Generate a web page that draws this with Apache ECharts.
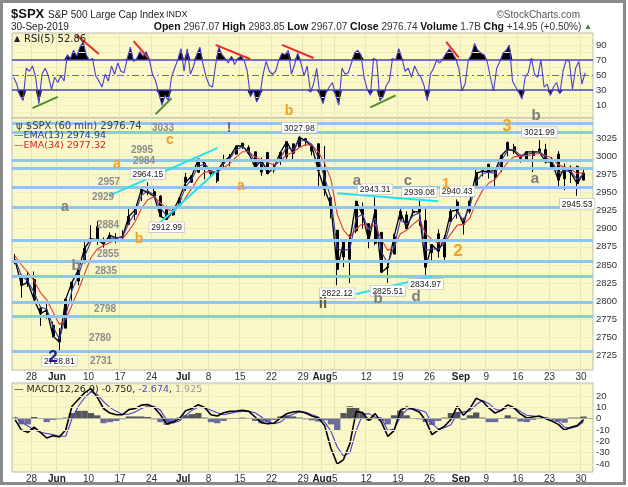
<!DOCTYPE html>
<html><head><meta charset="utf-8">
<script src="https://cdn.jsdelivr.net/npm/echarts@6/dist/echarts.min.js"></script>
<style>html,body{margin:0;padding:0;background:#fff}#c{width:628px;height:487px}</style>
</head><body><div id="c"></div>
<script>
// ---------- DATA ----------
const days = [
 '05-22','05-23','05-24','05-28','05-29','05-30','05-31',
 '06-03','06-04','06-05','06-06','06-07',
 '06-10','06-11','06-12','06-13','06-14',
 '06-17','06-18','06-19','06-20','06-21',
 '06-24','06-25','06-26','06-27','06-28',
 '07-01','07-02','07-03','07-05',
 '07-08','07-09','07-10','07-11','07-12',
 '07-15','07-16','07-17','07-18','07-19',
 '07-22','07-23','07-24','07-25','07-26',
 '07-29','07-30','07-31','08-01','08-02',
 '08-05','08-06','08-07','08-08','08-09',
 '08-12','08-13','08-14','08-15','08-16',
 '08-19','08-20','08-21','08-22','08-23',
 '08-26','08-27','08-28','08-29','08-30',
 '09-03','09-04','09-05','09-06',
 '09-09','09-10','09-11','09-12','09-13',
 '09-16','09-17','09-18','09-19','09-20',
 '09-23','09-24','09-25','09-26','09-27',
 '09-30'];
const tickDates = ['05-28','06-03','06-10','06-17','06-24','07-01','07-08','07-15','07-22','07-29','08-01','08-05','08-12','08-19','08-26','09-03','09-09','09-16','09-23','09-30'];
const tickLabels = ['28','Jun','10','17','24','Jul','8','15','22','29','Aug','5','12','19','26','Sep','9','16','23','30'];

const openP = [2856,2836,2833,2830,2790,2786,2767, 2752,2763,2818,2828,2853, 2886,2903,2882,2886,2886, 2889,2906,2920,2949,2952, 2951,2945,2926,2919,2932, 2971,2964,2978,2984, 2979,2966,2990,2999,3003, 3018,3012,3006,2978,3005, 2981,2995,2999,3017,3013, 3024,3007,3017,2980,2943, 2898,2861,2858,2897,2930, 2907,2880,2895,2846,2865, 2913,2919,2922,2931,2911, 2867,2893,2861,2910,2937, 2909,2924,2960,2980, 2989,2971,2982,3019,3013, 2997,2996,3001,3010,3009, 2984,3003,2969,2985,2986, 2967];
const highP = [2865,2836,2841,2841,2792,2799,2772, 2763,2804,2827,2852,2884, 2905,2911,2888,2895,2894, 2898,2930,2931,2958,2964.15, 2955,2946,2932,2929,2943, 2977,2974,2996,2992, 2981,2981,3002,3003,3014, 3018,3015,3006,2998,3006, 2990,3005,3020,3017,3027.98, 3025,3017,3018,3014,2945, 2898,2884,2892,2938,2936, 2907,2943.31,2895,2857,2893, 2931,2924,2929,2939.08,2928, 2879,2899,2891,2930,2940.43, 2915,2938,2985,2985, 2989,2980,3001,3020,3017, 3002,3006,3008,3021.99,3017, 2999,3007,2990,2987,2987, 2984];
const lowP = [2851,2805,2820,2802,2766,2776,2750, 2728.81,2763,2801,2822,2853, 2885,2878,2874,2882,2880, 2886,2905,2912,2938,2946, 2944,2916,2912.99,2918,2929, 2952,2963,2977,2968, 2970,2963,2984,2986,3002, 3010,3002,2984,2973,2975, 2977,2988,2996,2996,3012, 3014,3001,2959,2945,2914, 2822.12,2847,2825,2894,2900, 2873,2877,2840,2825.51,2865, 2913,2900,2917,2904,2834.97, 2856,2860,2853,2910,2914, 2892,2921,2960,2972, 2969,2959,2978,3000,3003, 2991,2994,2978,3003,2990, 2982,2957,2953,2963,2945.53, 2967];
const closeP = [2856,2822,2826,2802,2783,2788,2752, 2744,2803,2826,2843,2873, 2886,2885,2879,2891,2887, 2889,2917,2926,2954,2950, 2945,2917,2913,2924,2942, 2964,2973,2996,2990, 2976,2979,2993,2999,3014, 3014,3004,2984,2995,2976, 2985,3005,3020,3004,3026, 3021,3013,2980,2954,2932, 2844,2882,2884,2938,2919, 2883,2926,2840,2847,2889, 2924,2900,2924,2923,2847, 2878,2869,2887,2924,2926, 2906,2938,2977,2979, 2979,2980,3001,3010,3007, 2998,3006,3006,3006,2992, 2992,2967,2985,2977,2962, 2976.74];
const ema13 = [2858,2835,2828,2812,2792,2789,2765, 2748,2780,2815,2835,2862, 2882,2886,2881,2887,2887, 2889,2908,2922,2946,2952, 2947,2928,2918,2922,2935, 2958,2969,2986,2989, 2980,2977,2990,2997,3009, 3013,3007,2992,2990,2984, 2984,2998,3012,3009,3021, 3022,3016,2998,2970,2942, 2872,2870,2872,2915,2920, 2898,2915,2868,2852,2875, 2912,2906,2918,2922,2870, 2872,2872,2880,2910,2922, 2912,2930,2965,2976, 2978,2976,2994,3008,3009, 3001,3003,3004,3007,2998, 2993,2977,2980,2979,2968, 2974.94];
const ema34 = [2862,2850,2840,2828,2812,2802,2785, 2768,2775,2795,2815,2838, 2860,2872,2877,2881,2884, 2886,2897,2910,2928,2940, 2944,2936,2927,2924,2930, 2943,2956,2970,2978, 2979,2978,2984,2990,2999, 3006,3006,2999,2995,2991, 2988,2993,3002,3005,3012, 3016,3015,3006,2990,2968, 2920,2898,2888,2900,2907, 2900,2906,2885,2870,2875, 2893,2898,2906,2913,2893, 2885,2880,2881,2893,2905, 2906,2915,2936,2953, 2963,2968,2980,2992,2999, 3000,3001,3002,3004,3001, 2997,2988,2985,2982,2976, 2977.32];
// RSI(5) sampled twice a day
const rsi5 = [47,38,23,16,59,55,62,47,12,51, 59,49,31,47,40,49,42,77,72,83, 75,87,94,77,70,72,49,42,34,51, 42,62,51,66,55,53,72,87,68,72,
 81,75,81,70,51,42,25,10,23,16, 47,59,70,85,55,85,51,62,77,87, 64,47,36,34,64,87,77,72,66,75, 64,72,75,70,55,21,29,14,23,51,
 68,55,51,55,70,79,77,83,51,64, 79,66,49,62,27,38,59,23,12,27, 34,40,23,10,59,51,53,66,79,83, 77,47,31,23,72,70,16,21,36,42,
 72,70,85,72,55,59,47,62,53,47, 36,16,51,59,70,66,72,79,85,79, 72,59,29,38,70,77,92,83,79,77, 68,47,29,59,68,79,83,90,42,34,
 27,18,47,53,72,51,47,70,34,38, 23,34,40,25,55,70,68,31,59,68, 38,53];
const macdLine = [-1,-10,-12,-7.4,-12,-17,-15,-16,-10,11, 17,23,26.5,19,9,5,3.5,3.5,8,9, 12,12.5,10,3.5,-4.7,-3,0,7,9,12.4, 10,3.5,2.4,5.3,6.5,6.8,7.4,6.5,1.5,-3.5,
 -4.4,-3.8,0.6,4.4,5.9,6.5,5,2.4,0.6,-6, -26,-40,-36,-22,6.5,5.4,-1.5,4.5,-3,-15.5, -10.5,7.5,10.4,8.4,6,-1.5,-14,-10,-6.6,-0.6,
 11,3,9,18,15.5,9.5,5,7.5,12.2,9.6, 4.2,0.6,1.5,2.4,0,-2,-5,-10,-7.5,-6, -0.75];
const signalLine = [1.5,-3,-6.5,-10,-12,-13,-14,-15.5,-15.5,0, 11,18.5,23.6,21.5,15,10,6.5,3.8,4,6, 9,11,11,7.4,-1,-3.8,-2,3,7.4,10, 9.7,7.4,5.3,3.5,4.7,6,6.5,6.5,5.3,1.5,
 -3,-4.4,-3,1.2,4,6,5.6,3.5,1.5,-3, -11,-25,-33,-30,-10.5,3.5,4.5,1.5,0.6,-10.5, -9,1.5,8,9,7.7,6,-4.5,-9,-8,-5.4,
 4.5,6,6.9,12.5,16,13.5,8.4,7.2,10,9.6, 6.5,3,2.4,1.8,0.9,-0.3,-2.4,-7.5,-8.4,-6.9, -2.674];
const macdHist = [1,-5,-5,1.5,0,-3,-1,-0.5,1,5, 7,7,5,3,-4,-3,-2,-0.5,2,2, 2,1.5,-0.5,-3,-5.5,-3,1,3,4,5, 1,-3,-4,-2,0.5,0.5,1,0.5,-2,-4,
 -3,-1,2,3,2,1,-0.5,-1.5,-2.5,-1.5, -5,-10,5,11,10,5,-1.5,1,-2,-5, 3,7,3,0,-0.5,-3,-5.5,-2,1,5,
 6,-1,3,5.5,1,-3,-3,0.5,3,1, -2.5,-3,-1,0.5,1,0.5,-2.5,-3.5,1,1, 1.925];

const levels = [3046,3033,2995,2984,2957,2929,2884,2855,2835,2798,2780,2731];
const priceTicks = [2725,2750,2775,2800,2825,2850,2875,2900,2925,2950,2975,3000,3025];
const rsiTicks = [10,30,50,70,90];
const macdTicks = [-40,-30,-20,-10,0,10,20];
const pivots = [
 ['06-03',2728.81,'bottom'],['06-21',2964.15,'top'],['06-26',2912.99,'bottom'],['07-26',3027.98,'top'],
 ['08-05',2822.12,'bottom'],['08-13',2943.31,'top'],['08-15',2825.51,'bottom'],['08-22',2939.08,'top'],
 ['08-23',2834.97,'bottom'],['08-30',2940.43,'top'],['09-19',3021.99,'top'],['09-27',2945.53,'bottom']];
const trendLines = [
 [['06-13',2946],['07-09',3011]],
 [['06-24',2901],['07-09',2980]],
 [['08-05',2949],['08-27',2938]],
 [['08-08',2810],['08-26',2834]]];
// RSI divergence lines [slot, rsi] pairs
const rsiRed = [[[20,103],[27,78]],[[38,95],[43,71]],[[64,90],[75,71]],[[85,90],[95,72.6]],[[137,94],[141,73]]];
const rsiGreen = [[[6,6],[14,21]],[[45,-2],[50,19]],[[113,7],[121,23]]];

// ---------- LAYOUT ----------
const xCats = days.concat(['']);
const rsiCats = [];
days.forEach(d => { rsiCats.push(d + 'a'); rsiCats.push(d + 'b'); });
rsiCats.push('z1', 'z2');
const tickSet = new Set(tickDates);
const BG = '#FAF7C8', VGRID = '#E3E6B2', HGRID = '#EEEBBE';
const ORANGE = '#F2A024', GRAY = '#7d7d7d';

const levelText = [ // [label, x, y]
 ['3033',163,128],['2995',142,150],['2984',144,161],['2957',109,182],['2929',103,197],['2884',108,225],
 ['2855',108,254],['2835',106,271],['2798',105,309],['2780',100,338],['2731',101,361]];
const waveText = [ // [text, x, y, color, size]
 ['a',65,207,GRAY,14],['a',117,164,ORANGE,14],['c',170,140,ORANGE,14],['b',139,239,ORANGE,14],
 ['a',241,186,ORANGE,14],['b',289,111,ORANGE,14],['!',229,128,'#666',14],['ii',323,304,'#55623a',15],
 ['2',53,357,'#1c1c8c',17],['b',76,266,GRAY,15],['a',357,181,GRAY,15],['c',408,181,GRAY,15],
 ['b',378,299,GRAY,15],['d',416,297,GRAY,15],['1',446,184,ORANGE,15],['2',458,251,ORANGE,17],
 ['3',507,127,ORANGE,16],['b',536,116,GRAY,15],['a',535,179,GRAY,15]];

const rsiHiBase = rsi5.map(() => 70);
const rsiHiFill = rsi5.map(v => Math.max(v - 70, 0));
const rsiLoBase = rsi5.map(v => Math.min(v, 30));
const rsiLoFill = rsi5.map(v => 30 - Math.min(v, 30));

function xLabel(value) {
  const k = tickDates.indexOf(value);
  if (k < 0) return '';
  const t = tickLabels[k];
  return /^[A-Z]/.test(t) ? '{m|' + t + '}' : '{d|' + t + '}';
}
const xRich = {
  m: {fontWeight: 'bold', fontSize: 10, color: '#222', fontFamily: 'Liberation Sans', padding: [0, 5, 0, 0]},
  d: {fontSize: 10, color: '#333', fontFamily: 'Liberation Sans', padding: [0, 5, 0, 0]}
};
const ySide = {fontSize: 9.5, color: '#333', fontFamily: 'Liberation Sans', margin: 3, formatter: v => String(v)};
const gridBase = {left: 12, width: 581, show: true, backgroundColor: BG, borderColor: '#b9b9a8', borderWidth: 1};
const mlBase = {silent: true, symbol: ['none', 'none'], label: {show: false}, animation: false};

const chart = echarts.init(document.getElementById('c'), null, {renderer: 'canvas', width: 628, height: 487});

const graphics = [];
graphics.push({type: 'rect', z: 100, shape: {x: 1.5, y: 1.5, width: 623, height: 482}, style: {fill: 'none', stroke: '#8a8a8a', lineWidth: 3}});
graphics.push({type: 'text', z: 100, x: 11, y: 14, style: {text: '$SPX', font: 'bold 13px "Liberation Sans"', fill: '#111', verticalAlign: 'middle'}});
graphics.push({type: 'text', z: 100, x: 48, y: 15, style: {text: 'S&P 500 Large Cap Index', font: '10px "Liberation Sans"', fill: '#222', verticalAlign: 'middle'}});
graphics.push({type: 'text', z: 100, x: 166, y: 15, style: {text: 'INDX', font: '9px "Liberation Sans"', fill: '#222', verticalAlign: 'middle'}});
graphics.push({type: 'text', z: 100, x: 580, y: 15, style: {text: '©StockCharts.com', font: '10px "Liberation Sans"', fill: '#555', align: 'right', verticalAlign: 'middle'}});
graphics.push({type: 'text', z: 100, x: 11, y: 27, style: {text: '30-Sep-2019', font: '10px "Liberation Sans"', fill: '#222', verticalAlign: 'middle'}});
graphics.push({type: 'text', z: 100, x: 592, y: 27, style: {
  text: '{b|Open} 2967.07 {b|High} 2983.85 {b|Low} 2967.07 {b|Close} 2976.74 {b|Volume} 1.7B {b|Chg} +14.95 (+0.50%) {g|▲}',
  font: '10px "Liberation Sans"', fill: '#333', align: 'right', verticalAlign: 'middle',
  rich: {b: {fontWeight: 'bold', fontSize: 10.5, fontFamily: 'Liberation Sans', fill: '#111'}, g: {fontSize: 8, fill: '#2a8a2a'}}}});
// panel legends
graphics.push({type: 'text', z: 100, x: 14, y: 39, style: {text: '▲', font: '8px "DejaVu Sans"', fill: '#222', verticalAlign: 'middle'}});
graphics.push({type: 'text', z: 100, x: 24, y: 39, style: {text: 'RSI(5) 52.86', font: '10px "DejaVu Sans"', fill: '#222', verticalAlign: 'middle'}});
graphics.push({type: 'text', z: 100, x: 16, y: 126, style: {text: 'ψ $SPX (60 min) 2976.74', font: '10px "DejaVu Sans"', fill: '#444', verticalAlign: 'middle'}});
graphics.push({type: 'text', z: 100, x: 14, y: 136, style: {text: '—EMA(13) 2974.94', font: '9.5px "DejaVu Sans"', fill: '#2e2e9a', verticalAlign: 'middle'}});
graphics.push({type: 'text', z: 100, x: 14, y: 146, style: {text: '—EMA(34) 2977.32', font: '9.5px "DejaVu Sans"', fill: '#d02828', verticalAlign: 'middle'}});
graphics.push({type: 'text', z: 100, x: 14, y: 390, style: {
  text: '— MACD(12,26,9) -0.750, {bl|-2.674}, {gr|1.925}', font: '9.5px "DejaVu Sans"', fill: '#222', verticalAlign: 'middle',
  rich: {bl: {fill: '#4b3fcf', fontSize: 9.5, fontFamily: 'DejaVu Sans'}, gr: {fill: '#999', fontSize: 9.5, fontFamily: 'DejaVu Sans'}}}});
levelText.forEach(([t, x, y]) => graphics.push({type: 'text', z: 100, x: x, y: y,
  style: {text: t, font: 'bold 10px "Liberation Sans"', fill: '#8c8c8c', align: 'center', verticalAlign: 'middle'}}));
waveText.forEach(([t, x, y, c, s]) => graphics.push({type: 'text', z: 100, x: x, y: y,
  style: {text: t, font: 'bold ' + s + 'px "Liberation Sans"', fill: c, align: 'center', verticalAlign: 'middle'}}));

const option = {
  animation: false,
  backgroundColor: '#fff',
  grid: [
    Object.assign({top: 33, height: 85}, gridBase),
    Object.assign({top: 118, height: 252}, gridBase),
    Object.assign({top: 383, height: 89}, gridBase)
  ],
  xAxis: [
    {type: 'category', gridIndex: 0, data: rsiCats, boundaryGap: true,
     axisLine: {show: false}, axisTick: {show: false}, axisLabel: {show: false},
     splitLine: {show: true, interval: (i, v) => v.endsWith('a') && tickSet.has(v.slice(0, 5)), lineStyle: {color: VGRID, width: 1}}},
    {type: 'category', gridIndex: 1, data: xCats, boundaryGap: true,
     axisLine: {show: false}, axisTick: {show: false},
     axisLabel: {interval: (i, v) => tickSet.has(v), formatter: xLabel, rich: xRich, margin: 2},
     splitLine: {show: true, interval: (i, v) => tickSet.has(v), lineStyle: {color: VGRID, width: 1}}},
    {type: 'category', gridIndex: 2, data: xCats, boundaryGap: true,
     axisLine: {show: false}, axisTick: {show: false},
     axisLabel: {interval: (i, v) => tickSet.has(v), formatter: xLabel, rich: xRich, margin: 2},
     splitLine: {show: true, interval: (i, v) => tickSet.has(v), lineStyle: {color: VGRID, width: 1}}}
  ],
  yAxis: [
    {type: 'value', gridIndex: 0, position: 'right', min: -7.2, max: 105.9,
     axisLine: {show: false}, axisTick: {show: false}, splitLine: {show: false},
     axisLabel: Object.assign({customValues: rsiTicks}, ySide)},
    {type: 'value', gridIndex: 1, position: 'right', min: 2705.3, max: 3052.6,
     axisLine: {show: false}, axisTick: {show: false}, splitLine: {show: false},
     axisLabel: Object.assign({customValues: priceTicks}, ySide)},
    {type: 'value', gridIndex: 2, position: 'right', min: -47, max: 31.5,
     axisLine: {show: false}, axisTick: {show: false}, splitLine: {show: false},
     axisLabel: Object.assign({customValues: macdTicks}, ySide)}
  ],
  series: [
    // ---- RSI panel ----
    {type: 'line', xAxisIndex: 0, yAxisIndex: 0, data: rsiHiBase, stack: 'hi', symbol: 'none', z: 2,
     lineStyle: {width: 0, opacity: 0},
     markLine: Object.assign({}, mlBase, {lineStyle: {color: HGRID, width: 1, type: 'solid'},
       data: [0, 10, 20, 40, 60, 80, 90, 100].map(v => ({yAxis: v}))})},
    {type: 'line', xAxisIndex: 0, yAxisIndex: 0, data: rsiHiFill, stack: 'hi', symbol: 'none', z: 3,
     lineStyle: {width: 0, opacity: 0}, areaStyle: {color: '#000', opacity: 1}},
    {type: 'line', xAxisIndex: 0, yAxisIndex: 0, data: rsiLoBase, stack: 'lo', symbol: 'none', z: 3,
     lineStyle: {width: 0, opacity: 0}},
    {type: 'line', xAxisIndex: 0, yAxisIndex: 0, data: rsiLoFill, stack: 'lo', symbol: 'none', z: 3,
     lineStyle: {width: 0, opacity: 0}, areaStyle: {color: '#000', opacity: 1}},
    {type: 'line', xAxisIndex: 0, yAxisIndex: 0, data: rsi5, symbol: 'none', z: 5,
     lineStyle: {color: '#4a3ed0', width: 1.1},
     markLine: Object.assign({}, mlBase, {data: [
       {yAxis: 70, lineStyle: {color: '#4a40c8', width: 1.5, type: 'solid'}},
       {yAxis: 30, lineStyle: {color: '#4a40c8', width: 1.5, type: 'solid'}},
       {yAxis: 50, lineStyle: {color: '#6a5fd0', width: 1.2, type: [7, 3, 2, 3]}}
     ].concat(rsiRed.map(p => [{coord: p[0], lineStyle: {color: '#ee2a2a', width: 2, type: 'solid'}}, {coord: p[1]}]))
      .concat(rsiGreen.map(p => [{coord: p[0], lineStyle: {color: '#4f8f2a', width: 2, type: 'solid'}}, {coord: p[1]}]))})},
    // ---- price panel ----
    {type: 'line', xAxisIndex: 1, yAxisIndex: 1, data: [], z: 1,
     markLine: Object.assign({}, mlBase, {z: 1, lineStyle: {color: HGRID, width: 1, type: 'solid'},
       data: priceTicks.concat([3050]).map(v => ({yAxis: v}))})},
    {type: 'line', xAxisIndex: 1, yAxisIndex: 1, data: [], z: 2,
     markLine: Object.assign({}, mlBase, {lineStyle: {color: '#8fc6ef', width: 3, type: 'solid'},
       data: levels.map(v => ({yAxis: v}))})},
    {type: 'candlestick', xAxisIndex: 1, yAxisIndex: 1, z: 3, barWidth: 2.5,
     data: closeP.map((c, i) => [openP[i], c, lowP[i], highP[i]]),
     itemStyle: {color: '#000', color0: '#000', borderColor: '#000', borderColor0: '#000', borderWidth: 1}},
    {type: 'line', xAxisIndex: 1, yAxisIndex: 1, data: closeP, symbol: 'none', z: 3,
     lineStyle: {color: '#000', width: 1.3}},
    {type: 'line', xAxisIndex: 1, yAxisIndex: 1, data: ema34, symbol: 'none', z: 4,
     lineStyle: {color: '#e23a3a', width: 1.1}},
    {type: 'line', xAxisIndex: 1, yAxisIndex: 1, data: ema13, symbol: 'none', z: 4,
     lineStyle: {color: '#3a36b0', width: 1.1},
     markLine: Object.assign({}, mlBase, {lineStyle: {color: '#22e2f2', width: 2, type: 'solid'},
       data: trendLines.map(t => [{coord: t[0]}, {coord: t[1]}])})},
    {type: 'line', xAxisIndex: 1, yAxisIndex: 1, data: [], z: 6,
     markPoint: {silent: true, symbol: 'rect', symbolSize: 0.1, itemStyle: {color: 'rgba(0,0,0,0)'},
       data: pivots.map(p => ({coord: [p[0], p[1]], value: p[1].toFixed(2),
         label: {show: true, position: p[2], distance: 3, formatter: '{c}', fontSize: 8.5, fontFamily: 'Liberation Sans',
                 color: '#1a1a1a', backgroundColor: '#fff', borderColor: '#b8b8b8', borderWidth: 0.6, padding: [1, 2, 0, 2]}}))}},
    // ---- MACD panel ----
    {type: 'line', xAxisIndex: 2, yAxisIndex: 2, data: [], z: 1,
     markLine: Object.assign({}, mlBase, {data: [-40, -30, -20, -10, 10, 20, 30].map(v => ({yAxis: v, lineStyle: {color: HGRID, width: 1, type: 'solid'}}))
       .concat([{yAxis: 0, lineStyle: {color: '#b0b0a0', width: 1, type: 'solid'}}])})},
    {type: 'bar', xAxisIndex: 2, yAxisIndex: 2, z: 2, barCategoryGap: '0%', barWidth: '100%',
     data: macdHist.map(v => ({value: v, itemStyle: {color: v >= 0 ? '#555555' : '#6c6c9c'}}))},
    {type: 'line', xAxisIndex: 2, yAxisIndex: 2, data: signalLine, symbol: 'none', z: 3,
     lineStyle: {color: '#4a3ed0', width: 1.1}},
    {type: 'line', xAxisIndex: 2, yAxisIndex: 2, data: macdLine, symbol: 'none', z: 4,
     lineStyle: {color: '#000', width: 1.6}}
  ],
  graphic: {elements: graphics}
};
chart.setOption(option);
</script></body></html>
